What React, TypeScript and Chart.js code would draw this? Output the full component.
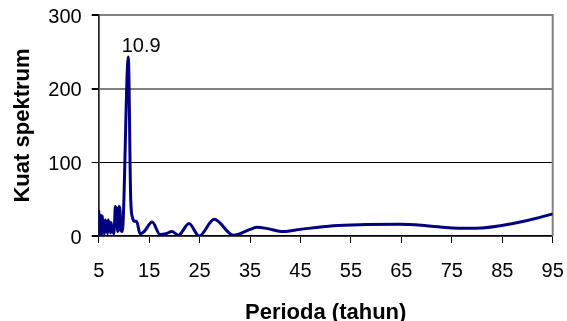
import React, { useEffect, useRef } from "react";
import { Chart, registerables } from "chart.js";

Chart.register(...registerables);

const periods: number[] = [
  5.0, 5.12, 5.25, 5.4, 5.55, 5.7, 5.85, 6.0, 6.15, 6.3, 6.45, 6.6, 6.75, 6.9,
  7.05, 7.2, 7.35, 7.5, 7.65, 7.8, 7.95, 8.1, 8.3, 8.45, 8.6, 8.75, 8.9, 9.05,
  9.22, 9.4, 9.67, 10.87, 11.35, 11.74, 12.1, 12.5, 13.2, 14.0, 15.6, 17.15,
  18.3, 19.5, 20.8, 22.9, 24.9, 27.9, 31.7, 35.0, 36.4, 38.5, 41.6, 45.0, 51.5,
  58.0, 64.7, 70.0, 75.0, 78.0, 81.0, 84.6, 90.0, 95.0,
];

const spectrum: number[] = [
  35, 10, 0, 28, 2, 27, 4, 12, 3, 22, 6, 20, 3, 22,
  7, 19, 4, 18, 6, 14, 3, 10, 40, 18, 38, 6, 8, 40,
  35, 8, 6, 243, 49, 24, 20, 20, 3, 6, 19, 2,
  3, 6, 1, 17, 0, 22.6, 1, 9, 12, 10, 6, 9, 14,
  15.5, 16, 14, 11, 10.4, 11, 14, 21, 30,
];

const xTickValues: number[] = [5, 15, 25, 35, 45, 55, 65, 75, 85, 95];
const yTickValues: number[] = [0, 100, 200, 300];
const peakLabel = "10.9";
const xTitle = "Perioda (tahun)";
const yTitle = "Kuat spektrum";

const FONT = "'Liberation Sans', Arial, sans-serif";

export default function App() {
  const ref = useRef<HTMLCanvasElement | null>(null);

  useEffect(() => {
    if (!ref.current) return;
    const peakIndex = spectrum.indexOf(Math.max(...spectrum));

    const framePlugin = {
      id: "frame",
      beforeDatasetsDraw(chart: any) {
        const { ctx, chartArea } = chart;
        ctx.save();
        ctx.strokeStyle = "#808080";
        ctx.lineWidth = 2;
        ctx.beginPath();
        ctx.moveTo(chartArea.right, chartArea.top - 1);
        ctx.lineTo(chartArea.right, chartArea.bottom);
        ctx.stroke();
        ctx.restore();
      },
      afterDatasetsDraw(chart: any) {
        const meta = chart.getDatasetMeta(0);
        const pt = meta.data[peakIndex];
        if (!pt) return;
        const { ctx } = chart;
        ctx.save();
        ctx.fillStyle = "#000";
        ctx.font = `20px ${FONT}`;
        ctx.textAlign = "left";
        ctx.textBaseline = "alphabetic";
        ctx.fillText(peakLabel, pt.x - 6.6, pt.y - 5);
        ctx.restore();
      },
    };

    const chart = new Chart(ref.current, {
      type: "line",
      data: {
        datasets: [
          {
            data: periods.map((p, i) => ({ x: p, y: spectrum[i] })),
            borderColor: "#000080",
            borderWidth: 3,
            pointRadius: 0,
            fill: false,
            cubicInterpolationMode: "monotone",
          },
        ],
      },
      options: {
        animation: false,
        responsive: false,
        layout: { padding: { top: 15, right: 14.3, left: 0, bottom: 0 } },
        plugins: { legend: { display: false }, tooltip: { enabled: false } },
        scales: {
          x: {
            type: "linear",
            min: 5,
            max: 95,
            afterBuildTicks: (scale: any) => {
              scale.ticks = xTickValues.map((v) => ({ value: v }));
            },
            afterFit: (scale: any) => {
              scale.height = 85;
              scale.paddingLeft = 0;
              scale.paddingRight = 0;
            },
            grid: {
              drawOnChartArea: false,
              drawTicks: true,
              tickLength: 7,
              tickColor: "#000",
              lineWidth: 1,
            },
            border: { display: true, color: "#000", width: 1.5 },
            ticks: {
              color: "#000",
              font: { family: FONT, size: 20 },
              padding: 16,
              maxRotation: 0,
              autoSkip: false,
            },
            title: {
              display: true,
              text: xTitle,
              color: "#000",
              font: { family: FONT, size: 22, weight: "bold", lineHeight: 0.73 },
              padding: { top: 0, bottom: 0 },
            },
          },
          y: {
            min: 0,
            max: 300,
            afterBuildTicks: (scale: any) => {
              scale.ticks = yTickValues.map((v) => ({ value: v }));
            },
            afterFit: (scale: any) => {
              scale.width = 98.7;
              scale.paddingTop = 0;
              scale.paddingBottom = 0;
            },
            grid: {
              drawTicks: true,
              tickLength: 7,
              tickColor: "#000",
              color: (c: any) =>
                c.tick && c.tick.value === 100 ? "#000" : "#808080",
              lineWidth: (c: any) =>
                c.tick && c.tick.value === 100 ? 1 : 2,
            },
            border: { display: true, color: "#202020", width: 1.7 },
            ticks: {
              color: "#000",
              font: { family: FONT, size: 20 },
              padding: 10,
              labelOffset: 2,
            },
            title: {
              display: true,
              text: yTitle,
              color: "#000",
              font: { family: FONT, size: 22, weight: "bold", lineHeight: 1.2 },
              padding: { top: 9.3, bottom: 0 },
            },
          },
        },
      },
      plugins: [framePlugin],
    } as any);

    return () => chart.destroy();
  }, []);

  return (
    <div style={{ position: "absolute", left: 0, top: 0, width: 567, height: 321, background: "#fff" }}>
      <canvas ref={ref} width={567} height={321} style={{ display: "block" }} />
    </div>
  );
}
